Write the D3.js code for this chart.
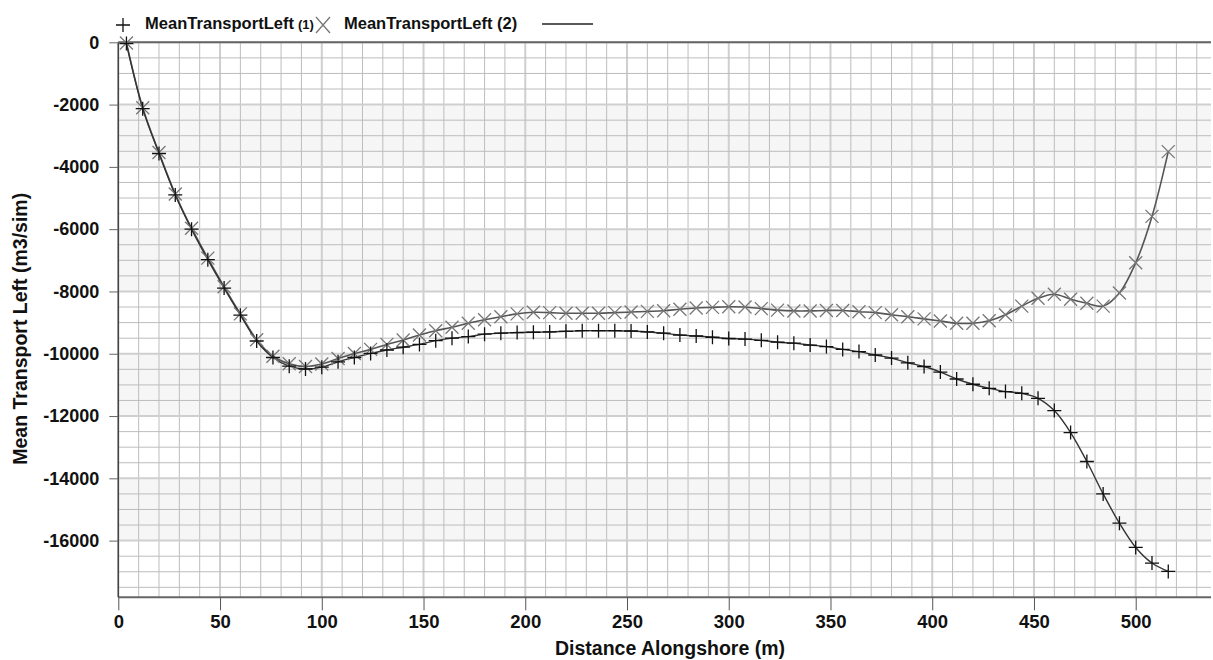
<!DOCTYPE html>
<html><head><meta charset="utf-8">
<script src="https://cdn.jsdelivr.net/npm/d3@7"></script>
<style>
body{margin:0;background:#fff;}
svg{display:block;font-family:"Liberation Sans",Arial,sans-serif;}
</style></head>
<body>
<svg id="chart" width="1213" height="660"></svg>
<script>
const distance = [4,12,20,28,36,44,52,60,68,76,84,92,100,108,116,124,132,140,148,156,164,172,180,188,196,204,212,220,228,236,244,252,260,268,276,284,292,300,308,316,324,332,340,348,356,364,372,380,388,396,404,412,420,428,436,444,452,460,468,476,484,492,500,508,516];
const series1 = [-40,-2130,-3570,-4900,-6000,-6980,-7890,-8760,-9590,-10120,-10400,-10490,-10430,-10260,-10120,-9990,-9880,-9790,-9700,-9580,-9500,-9450,-9370,-9340,-9320,-9310,-9300,-9280,-9260,-9260,-9260,-9270,-9300,-9340,-9400,-9430,-9470,-9510,-9530,-9570,-9630,-9660,-9720,-9770,-9860,-9930,-10040,-10140,-10290,-10410,-10590,-10810,-10980,-11110,-11215,-11270,-11430,-11825,-12530,-13460,-14500,-15440,-16220,-16720,-16990];
const series2 = [-20,-2100,-3540,-4870,-5970,-6930,-7850,-8720,-9550,-10080,-10320,-10410,-10330,-10150,-9990,-9860,-9700,-9560,-9400,-9260,-9150,-9020,-8910,-8810,-8720,-8670,-8680,-8700,-8700,-8700,-8680,-8660,-8640,-8620,-8570,-8530,-8510,-8490,-8500,-8550,-8600,-8625,-8625,-8610,-8610,-8650,-8680,-8750,-8810,-8880,-8950,-9020,-9020,-8940,-8750,-8470,-8220,-8090,-8250,-8380,-8470,-8050,-7080,-5590,-3510];
const seriesNames = ["MeanTransportLeft", "MeanTransportLeft (2)"];
const xTicks = [0,50,100,150,200,250,300,350,400,450,500];
const yTicks = [0,-2000,-4000,-6000,-8000,-10000,-12000,-14000,-16000];
const xTitle = "Distance Alongshore (m)";
const yTitle = "Mean Transport Left (m3/sim)";

const svg = d3.select("#chart");
const L = 118.3, R = 1211, T = 42.3, B = 597.3;
const x = d3.scaleLinear().domain([0, 537]).range([L, R]);
const y = d3.scaleLinear().domain([-17820, 0]).range([B, T]);

const g = svg.append("g");
const bands = [[-2000,-4000],[-6000,-8000],[-10000,-12000],[-14000,-16000]];
g.selectAll("rect.band").data(bands).enter().append("rect")
  .attr("x", L).attr("width", R - L)
  .attr("y", d => y(d[0])).attr("height", d => y(d[1]) - y(d[0]))
  .attr("fill", "#f6f6f6");

const xMinor = d3.range(0, 537, 10);
const yMinor = d3.range(-17500, 1, 500);
g.selectAll("line.vx").data(xMinor).enter().append("line")
  .attr("x1", d => x(d)).attr("x2", d => x(d)).attr("y1", T).attr("y2", B)
  .attr("stroke", d => d % 50 === 0 ? "#cfcfcf" : "#bdbdbd")
  .attr("stroke-width", d => d % 50 === 0 ? 2 : 1);
g.selectAll("line.hy").data(yMinor).enter().append("line")
  .attr("y1", d => y(d)).attr("y2", d => y(d)).attr("x1", L).attr("x2", R)
  .attr("stroke", d => d % 2000 === 0 ? "#cfcfcf" : "#bdbdbd")
  .attr("stroke-width", d => d % 2000 === 0 ? 2 : 1);

const fmt = d => String(d);
const xAxis = d3.axisBottom(x).tickValues(xTicks).tickFormat(fmt).tickSize(13).tickSizeOuter(0).tickPadding(5);
const xa = svg.append("g").attr("transform", `translate(0,${B})`).call(xAxis);
xa.select(".domain").attr("stroke", "#666").attr("stroke-width", 2).attr("d", `M${L},0H${R}`);
xa.selectAll(".tick line").attr("stroke", "#555");
xa.selectAll("text").attr("font-size", 18.5).attr("font-weight", "bold").attr("fill", "#111")
  .attr("font-family", "Liberation Sans, Arial, sans-serif");

const yAxis = d3.axisLeft(y).tickValues(yTicks).tickFormat(fmt).tickSize(9).tickSizeOuter(0).tickPadding(10);
const ya = svg.append("g").attr("transform", `translate(${L},0)`).call(yAxis);
ya.select(".domain").attr("stroke", "#444").attr("stroke-width", 1.5).attr("d", `M0,${T}V${B}`);
ya.selectAll(".tick line").attr("stroke", "#666");
ya.selectAll("text").attr("font-size", 18).attr("font-weight", "bold").attr("fill", "#111")
  .attr("font-family", "Liberation Sans, Arial, sans-serif");

svg.append("line").attr("x1", L).attr("x2", R).attr("y1", T).attr("y2", T)
  .attr("stroke", "#666").attr("stroke-width", 2);

const line = d3.line().x(d => x(d[0])).y(d => y(d[1])).curve(d3.curveCatmullRom.alpha(0.5));
const d1 = distance.map((d, i) => [d, series1[i]]);
const d2 = distance.map((d, i) => [d, series2[i]]);
svg.append("path").datum(d2).attr("d", line).attr("fill", "none").attr("stroke", "#555").attr("stroke-width", 1.6);
svg.append("path").datum(d1).attr("d", line).attr("fill", "none").attr("stroke", "#333").attr("stroke-width", 1.4);

const cross = 6.5, plus = 7;
svg.append("g").selectAll("path").data(d2).enter().append("path")
  .attr("d", d => { const cx = x(d[0]), cy = y(d[1]);
    return `M${cx-cross},${cy-cross}L${cx+cross},${cy+cross}M${cx-cross},${cy+cross}L${cx+cross},${cy-cross}`; })
  .attr("stroke", "#777").attr("stroke-width", 1.3).attr("fill", "none");
svg.append("g").selectAll("path").data(d1).enter().append("path")
  .attr("d", d => { const cx = x(d[0]), cy = y(d[1]);
    return `M${cx-plus},${cy}H${cx+plus}M${cx},${cy-plus}V${cy+plus}`; })
  .attr("stroke", "#111").attr("stroke-width", 1.3).attr("fill", "none");

const lg = svg.append("g");
lg.append("path").attr("d", `M${123-7},25H${123+7}M123,18V32`).attr("stroke", "#111").attr("stroke-width", 1.3);
const t1 = lg.append("text").attr("y", 29).attr("font-weight", "bold").attr("fill", "#111");
t1.append("tspan").attr("x", 145).attr("font-size", 16.5).attr("textLength", 149).text(seriesNames[0]);
t1.append("tspan").attr("x", 298).attr("font-size", 13).text("(1)");
lg.append("path").attr("d", `M${323-7},${25-8}L${323+7},${25+8}M${323-7},${25+8}L${323+7},${25-8}`).attr("stroke", "#777").attr("stroke-width", 1.3);
lg.append("text").attr("x", 344).attr("y", 29).attr("font-size", 16.5).attr("font-weight", "bold").attr("fill", "#111").text(seriesNames[1]);
lg.append("line").attr("x1", 542).attr("x2", 593).attr("y1", 24).attr("y2", 24).attr("stroke", "#222").attr("stroke-width", 1.3);

svg.append("text").attr("x", 670).attr("y", 655).attr("text-anchor", "middle")
  .attr("font-size", 19.5).attr("font-weight", "bold").attr("fill", "#111").text(xTitle);
svg.append("text").attr("transform", `translate(27,${(T+B)/2 + 9}) rotate(-90)`).attr("text-anchor", "middle")
  .attr("font-size", 19.5).attr("font-weight", "bold").attr("fill", "#111").text(yTitle);
</script>
</body></html>
